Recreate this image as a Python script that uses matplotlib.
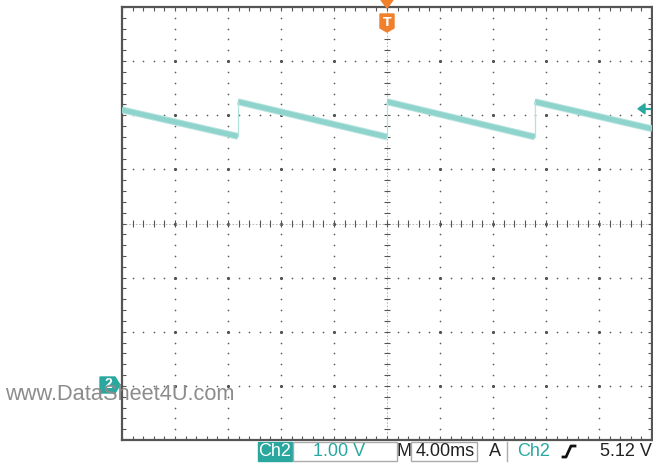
import numpy as np
import matplotlib
matplotlib.use("Agg")
import matplotlib.pyplot as plt
from matplotlib.collections import LineCollection
from matplotlib.patches import Polygon, Rectangle
from matplotlib.lines import Line2D

W, H = 653, 463

# scope settings
volts_per_div = 1.00
ms_per_div = 4.00
trig_level = 5.12

# sawtooth trace (time in ms, trigger at 0; volts above ground)
ramp_t0 = [-20.0, -11.25, 0.0, 11.15]
ramp_t1 = [-11.25, 0.0, 11.15, 20.0]
ramp_v0 = [5.10, 5.25, 5.25, 5.25]
ramp_v1 = [4.61, 4.60, 4.60, 4.75]
jump_t = [-11.25, 0.0, 11.15]
jump_lo = [4.61, 4.60, 4.60]
jump_hi = [5.25, 5.25, 5.25]

teal = '#8fd3cd'
teal_dark = '#2aa89f'
orange = '#f0802c'
grid_c = '#5f5f5f'
ui_font = ['Liberation Sans', 'DejaVu Sans']


def fp(x, y):
    # screen pixel -> figure fraction
    return (x / W, 1 - y / H)


fig = plt.figure(figsize=(W / 100, H / 100), dpi=100)
fig.patch.set_facecolor('white')
ax = fig.add_axes([122 / W, 1 - 440 / H, 530 / W, 433 / H])
ax.set_xlim(-20, 20)
ax.set_ylim(-1, 7)
ax.set_xticks([])
ax.set_yticks([])
for s in ax.spines.values():
    s.set_color('#555555')
    s.set_linewidth(1.6)

# dotted graticule
xmaj = np.arange(-16, 17, 4)
ymaj = np.arange(0, 7, 1)
for gx in xmaj:
    if gx == 0:
        continue
    yy = np.arange(-1, 7.001, 0.2)
    ax.scatter(np.full_like(yy, gx), yy, s=1.5, color=grid_c, lw=0, zorder=1)
    ax.scatter([gx] * len(ymaj), ymaj, s=5, color='#404040', lw=0, zorder=1)
for gy in ymaj:
    if gy == 3:
        continue
    xx = np.arange(-20, 20.001, 0.8)
    ax.scatter(xx, np.full_like(xx, gy), s=1.5, color=grid_c, lw=0, zorder=1)

# centre crosshair and edge ticks
dv = 3 / 54.1
dt = 3 / 13.25
segs = []
for x in np.arange(-20, 20.001, 0.8):
    segs.append([(x, 3 - dv), (x, 3 + dv)])
    segs.append([(x, -1), (x, -1 + dv * 1.2)])
    segs.append([(x, 7), (x, 7 - dv * 1.2)])
for y in np.arange(-1, 7.001, 0.2):
    segs.append([(-dt, y), (dt, y)])
    segs.append([(-20, y), (-20 + dt * 1.2, y)])
    segs.append([(20, y), (20 - dt * 1.2, y)])
ax.add_collection(LineCollection(segs, colors='#555555', linewidths=0.8, zorder=2))
ax.plot([-20, 20], [3, 3], color='#aaaaaa', lw=0.6, ls=(0, (2, 2)), zorder=1)
ax.plot([0, 0], [-1, 7], color='#aaaaaa', lw=0.6, ls=(0, (2, 2)), zorder=1)

# trace
for t0, t1, v0, v1 in zip(ramp_t0, ramp_t1, ramp_v0, ramp_v1):
    ax.plot([t0, t1], [v0, v1], color='#b9e4e0', lw=5.0, solid_capstyle='butt', zorder=3)
    ax.plot([t0, t1], [v0, v1], color=teal, lw=3.6, solid_capstyle='butt', zorder=3)
for t, lo, hi in zip(jump_t, jump_lo, jump_hi):
    ax.plot([t, t], [lo, hi], color='#b4e2de', lw=0.9, zorder=3)

# trigger level arrow on the right (pixel position follows trig_level)
y_trig = ax.transData.transform((0, trig_level))[1]
y_trig = H - y_trig
fig.add_artist(Polygon([fp(638, y_trig), fp(645, y_trig - 5), fp(645, y_trig + 5)],
                       closed=True, transform=fig.transFigure, color=teal_dark, zorder=5))
fig.add_artist(Line2D([644 / W, 650 / W], [1 - y_trig / H] * 2, transform=fig.transFigure,
                      color=teal_dark, lw=1.6, zorder=5))

# trigger position marker at top
fig.add_artist(Polygon([fp(381, 0), fp(393, 0), fp(387, 8)], closed=True,
                       transform=fig.transFigure, color=orange, zorder=5))
fig.add_artist(Polygon([fp(380, 14), fp(394, 14), fp(394, 28), fp(387, 32), fp(380, 28)],
                       closed=True, transform=fig.transFigure, color=orange, zorder=5))
fig.text(*fp(387, 22), 'T', color='white', fontsize=9, fontweight='bold',
         ha='center', va='center', zorder=6)

# ground marker for channel 2
fig.add_artist(Polygon([fp(100, 377), fp(115, 377), fp(120, 385), fp(115, 393), fp(100, 393)],
                       closed=True, transform=fig.transFigure, color=teal_dark, zorder=5))
fig.text(*fp(108, 384), '2', color='white', fontsize=10, fontweight='bold',
         family=ui_font, ha='center', va='center', zorder=6)

# watermark
fig.text(*fp(5, 395), 'www.DataSheet4U.com', color='#8c8c8c', fontsize=15.7,
         family=ui_font, ha='left', va='center', zorder=8)

# status bar
fs = 13
ybar = 451.5
fig.add_artist(Rectangle(fp(258, 461), 34 / W, 19 / H, transform=fig.transFigure,
                         color=teal_dark, zorder=5))
fig.text(*fp(275, ybar), 'Ch2', color='white', fontsize=fs, family=ui_font,
         ha='center', va='center', zorder=6)
fig.add_artist(Rectangle(fp(293, 461), 104 / W, 19 / H, transform=fig.transFigure,
                         facecolor='white', edgecolor='#aaaaaa', lw=1, zorder=5))
fig.text(*fp(339, ybar), f'{volts_per_div:.2f} V', color=teal_dark, fontsize=fs,
         family=ui_font, ha='center', va='center', zorder=6)
fig.text(*fp(404, ybar), 'M', color='#222222', fontsize=fs, family=ui_font,
         ha='center', va='center', zorder=6)
fig.add_artist(Rectangle(fp(411, 461), 66 / W, 19 / H, transform=fig.transFigure,
                         facecolor='white', edgecolor='#aaaaaa', lw=1, zorder=5))
fig.text(*fp(445, ybar), f'{ms_per_div:.2f}ms', color='#222222', fontsize=fs,
         family=ui_font, ha='center', va='center', zorder=6)
fig.text(*fp(495, ybar), 'A', color='#222222', fontsize=fs, family=ui_font,
         ha='center', va='center', zorder=6)
fig.add_artist(Line2D([507 / W, 507 / W], [1 - 442 / H, 1 - 461 / H], transform=fig.transFigure,
                      color='#aaaaaa', lw=1, zorder=5))
fig.text(*fp(534, ybar), 'Ch2', color=teal_dark, fontsize=fs, family=ui_font,
         ha='center', va='center', zorder=6)
fig.add_artist(Line2D([fp(563, 0)[0], fp(566, 0)[0], fp(571, 0)[0], fp(575, 0)[0]],
                      [fp(0, 457)[1], fp(0, 457)[1], fp(0, 446)[1], fp(0, 446)[1]],
                      transform=fig.transFigure, color='#111111', lw=2, zorder=6))
fig.text(*fp(652, ybar), f'{trig_level:.2f} V', color='#222222', fontsize=fs,
         family=ui_font, ha='right', va='center', zorder=6)

fig.savefig('out.png', dpi=100)
